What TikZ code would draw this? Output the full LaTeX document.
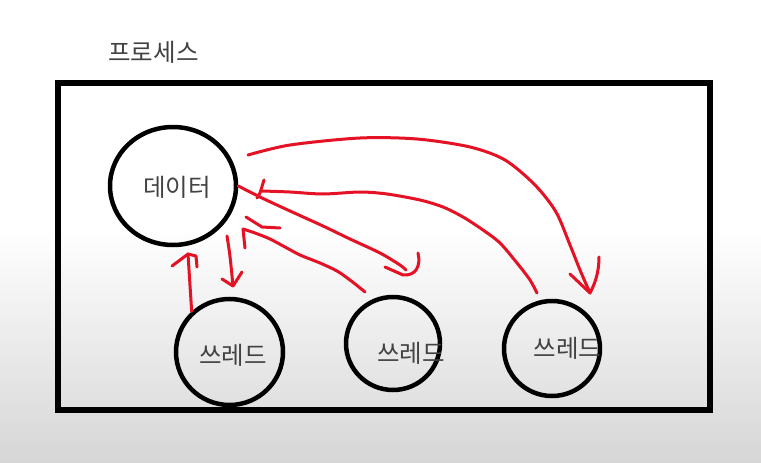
\documentclass[tikz,border=0pt]{standalone}
\usepackage{fontspec}
\newfontfamily\kr{Noto Sans CJK KR}
\usetikzlibrary{shapes.geometric}
\definecolor{pen}{RGB}{228,18,36}
\definecolor{ink}{RGB}{66,66,66}
\definecolor{bgbottom}{RGB}{214,214,214}
\begin{document}
\begin{tikzpicture}[x=1pt,y=-1pt,
  bubble/.style={draw=black,line width=4.5pt,shape=ellipse,inner sep=0pt},
  lbl/.style={font=\kr\fontsize{24.5}{28}\selectfont,text=ink,inner sep=0pt},
  box/.style={draw=black,line width=6pt,inner sep=0pt},
  redpen/.style={draw=pen,line width=3pt,line cap=round,line join=round}]
\useasboundingbox (0,0) rectangle (761,463);
\fill[white] (0,0) rectangle (761,463);
\shade[top color=white,bottom color=bgbottom] (0,228) rectangle (761,463);

% process box and title
\node[box,minimum width=652pt,minimum height=327pt] (proc) at (384,246.5) {};
\node[lbl] (title) at (153.5,52) {프로세스};

% data and threads
\node[bubble,minimum width=126pt,minimum height=118pt] (data) at (173,186) {};
\node[lbl] (datat) at (177,187) {데이터};
\node[bubble,minimum width=107pt,minimum height=106pt] (t1) at (229.5,352) {};
\node[lbl] (t1t) at (233,355) {쓰레드};
\node[bubble,minimum width=94pt,minimum height=93pt] (t2) at (393,343.5) {};
\node[lbl] (t2t) at (411,353) {쓰레드};
\node[bubble,minimum width=96pt,minimum height=95pt] (t3) at (552,348.5) {};
\node[lbl] (t3t) at (567.5,348) {쓰레드};

% connector end points
\coordinate (a1s) at (t1.133);
\coordinate (a1e) at (188,254);
\coordinate (a2s) at (227,236);
\coordinate (a2e) at (233,286);
\coordinate (a3s) at (data.east);
\coordinate (a3e) at (406,270);
\coordinate (a4s) at (365,292);
\coordinate (a4e) at (243,229);
\coordinate (a5s) at (537,293);
\coordinate (a5e) at (262,191);
\coordinate (a6s) at (248,155);
\coordinate (a6e) at (590,293);

% thread 1 -> data
\draw[redpen] (a1s) -- (a1e);
\draw[redpen] (172,266) -- (a1e) -- (196,256) -- (197,267);
% data -> thread 1
\draw[redpen] (a2s) .. controls (230,255) .. (a2e);
\draw[redpen] (222,279) -- (a2e) -- (242,272);
% data -> thread 2
\draw[redpen] plot[smooth] coordinates {(a3s) (262,198) (290,211) (323,226) (350,239) (380,253) (400,265) (a3e)};
\draw[redpen] (385,267) -- (403,275) .. controls (416,276) and (421,266) .. (418,253);
% thread 2 -> data
\draw[redpen] plot[smooth] coordinates {(a4s) (350,280) (337,271) (320,263) (300,255) (285,247) (270,239) (255,233) (a4e)};
\draw[redpen] (a4e) -- (245,248);
\draw[redpen] (246,217) -- (262,227) -- (280,228);
% thread 3 -> data
\draw[redpen] plot[smooth] coordinates {(a5s) (530,280) (517,263) (500,243) (483,230) (463,217) (443,207) (420,200) (387,194) (360,192) (323,194) (290,192) (a5e)};
\draw[redpen] (264,180) -- (260,193) -- (257,198);
% data -> thread 3
\draw[redpen] plot[smooth] coordinates {(a6s) (290,145) (360,138) (417,139) (470,147) (505,160) (535,185) (556,212) (570,245) (580,270) (a6e)};
\draw[redpen] (570,274) -- (a6e) .. controls (597,280) and (599,268) .. (599,257);
\end{tikzpicture}
\end{document}
